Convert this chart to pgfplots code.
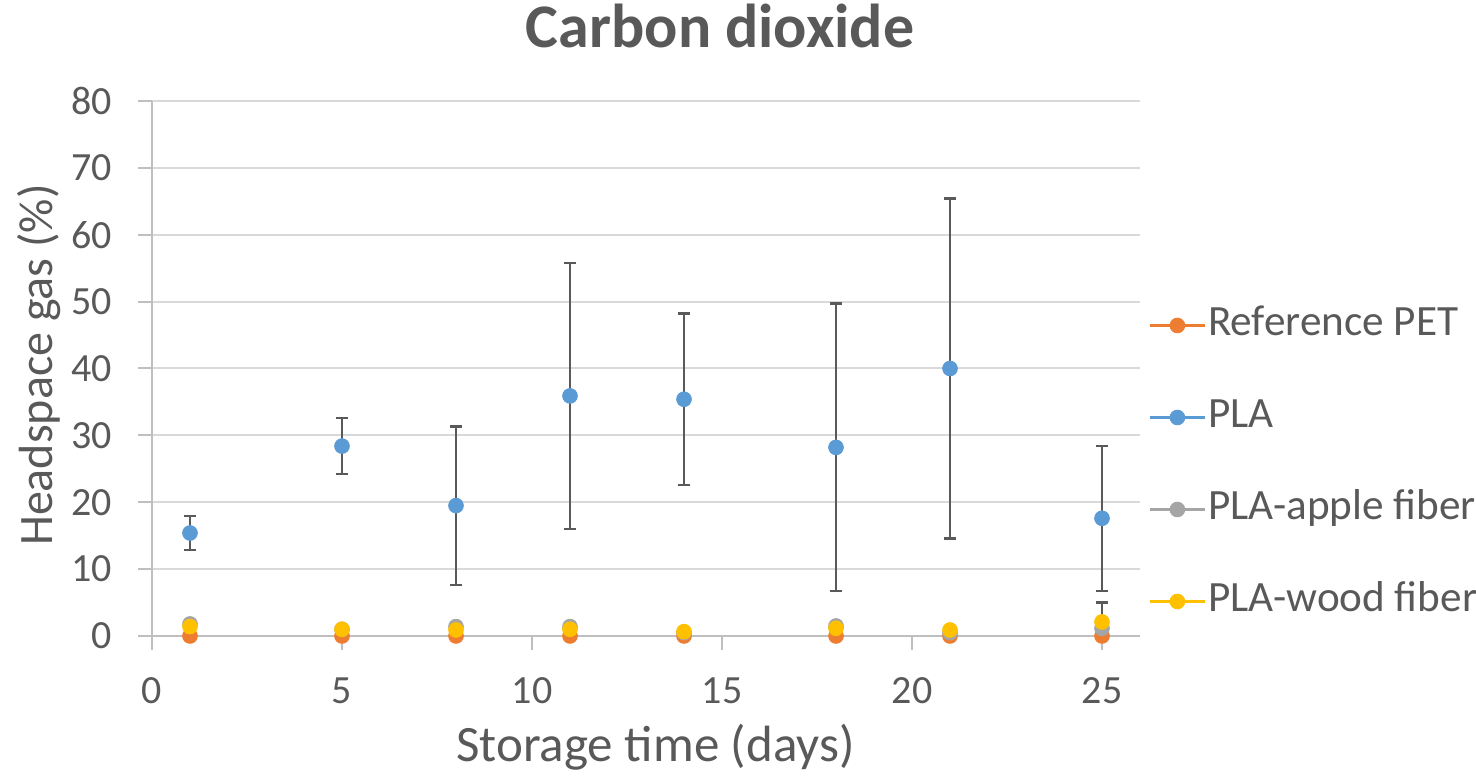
\documentclass[border=0pt]{standalone}
\usepackage{fontspec}
\setmainfont{Carlito}
\usepackage{pgfplots}
\pgfplotsset{compat=1.18}
\usetikzlibrary{calc}

\definecolor{txt}{HTML}{595959}
\definecolor{gridc}{HTML}{D9D9D9}
\definecolor{axc}{HTML}{BFBFBF}
\definecolor{ebar}{HTML}{595959}
\definecolor{cpet}{HTML}{ED7D31}
\definecolor{cpla}{HTML}{5B9BD5}
\definecolor{capple}{HTML}{A5A5A5}
\definecolor{cwood}{HTML}{FFC000}

\pgfplotsset{
  dot/.style={only marks, mark=*, mark size=3.7pt, color=#1,
    mark options={draw=#1, fill=#1}},
  ebars/.style={error bars/.cd, y dir=both, y explicit,
    error bar style={line width=1.2pt, draw=ebar},
    error mark options={rotate=90, mark size=3pt, line width=1.2pt, draw=ebar}},
}

\begin{document}
\begin{tikzpicture}
\begin{axis}[
  scale only axis, width=494pt, height=267.5pt,
  xmin=0, xmax=26, ymin=0, ymax=80,
  xtick={0,5,...,25}, ytick={0,10,...,80},
  axis x line*=bottom, axis y line*=left,
  axis line style={draw=axc, line width=1pt},
  ymajorgrids, grid style={draw=gridc, line width=1pt},
  tick align=outside, major tick length=7pt,
  tick style={draw=axc, line width=1pt},
  tick label style={text=txt, font=\fontsize{20}{24}\selectfont},
  /pgf/number format/assume math mode=true,
  yticklabel style={anchor=east, inner sep=0pt, xshift=-13pt},
  xticklabel style={anchor=north, inner sep=0pt, yshift=-13.5pt},
  clip=false,
  legend style={at={(1.008,0.3224)}, anchor=west, draw=none, fill=none,
    inner sep=0pt, row sep=26pt, column sep=0.8pt, text=txt,
    font=\fontsize{21.6}{26}\selectfont,
    nodes={inner sep=0pt, text height=15pt, text depth=5pt}},
  legend cell align=left,
  legend image code/.code={
    \draw[#1, mark=none, line width=1.6pt] (0pt,0pt) -- (27.5pt,0pt);
    \draw[#1, only marks] plot coordinates {(13.75pt,0pt)};
  },
]
\addplot[dot=cpet] table[x=x, y=y] {
x y
1 0
5 0
8 0
11 0
14 0
18 0
21 0
25 0
};
\addlegendentry{Reference PET}

\addplot[dot=cpla, ebars] table[x=x, y=y, y error=e] {
x y e
1 15.4 2.55
5 28.4 4.2
8 19.5 11.85
11 35.9 19.9
14 35.4 12.8
18 28.2 21.5
21 40.0 25.4
25 17.6 10.85
};
\addlegendentry{PLA}

\addplot[forget plot, draw=none, mark=none,
  error bars/.cd, y dir=plus, y explicit,
  error bar style={line width=1.2pt, draw=ebar},
  error mark options={rotate=90, mark size=3pt, line width=1.2pt, draw=ebar}]
  coordinates {(25,1.15) +- (0,3.85)};

\addplot[dot=capple] table[x=x, y=y] {
x y
1 1.8
5 1.0
8 1.4
11 1.4
14 0.5
18 1.5
21 0.5
25 1.15
};
\addlegendentry{PLA-apple fiber}

\addplot[dot=cwood] table[x=x, y=y] {
x y
1 1.4
5 1.0
8 0.9
11 1.0
14 0.65
18 1.15
21 0.9
25 2.1
};
\addlegendentry{PLA-wood fiber}
\end{axis}

\node[anchor=base, inner sep=0pt, text=txt, font=\bfseries\fontsize{31}{37}\selectfont]
  at ($(current axis.north)+(37pt,26.5pt)$) {Carbon dioxide};
\node[anchor=base, inner sep=0pt, text=txt, font=\fontsize{25.5}{30}\selectfont]
  at ($(current axis.south)+(4.75pt,-63pt)$) {Storage time (days)};
\node[rotate=90, anchor=north, inner sep=0pt, text=txt, font=\fontsize{24}{29}\selectfont]
  at ($(current axis.west)+(-67.5pt,1.75pt)$) {Headspace gas (\%)};

\pgfresetboundingbox
\path ($(current axis.south west)+(-76pt,-70.5pt)$) rectangle ($(current axis.north east)+(168pt,50.5pt)$);
\end{tikzpicture}
\end{document}
